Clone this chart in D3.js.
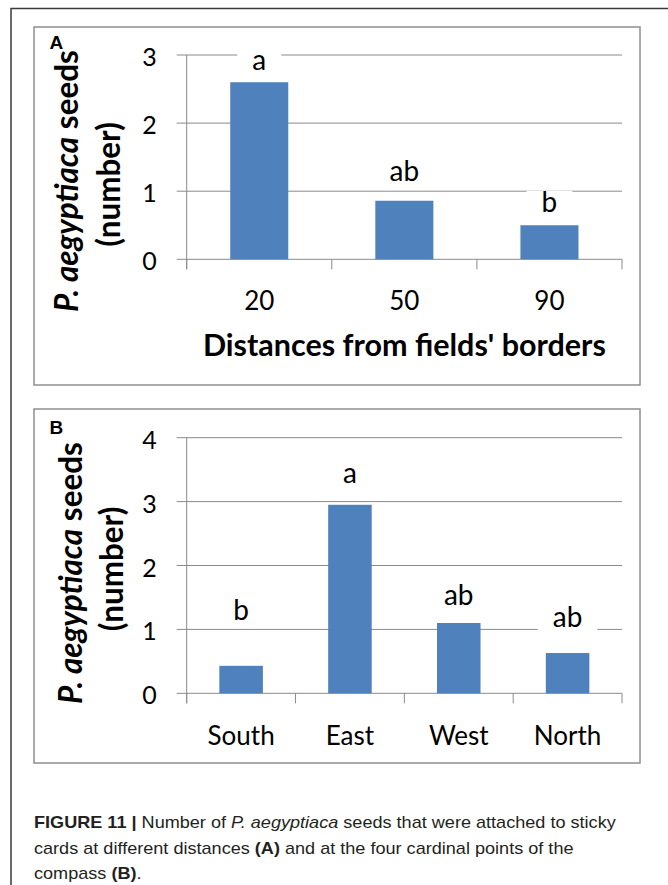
<!DOCTYPE html>
<html>
<head>
<meta charset="utf-8">
<script src="https://cdn.jsdelivr.net/npm/d3@7"></script>
<style>
  body { margin: 0; background: #fff; }
  svg { display: block; }
</style>
</head>
<body>
<script>
// Panel A: seeds caught at different distances from the field borders
const distances = ["20", "50", "90"];
const seedsByDistance = [2.6, 0.86, 0.5];
const lettersByDistance = ["a", "ab", "b"];
const distanceTicks = [0, 1, 2, 3];

// Panel B: seeds caught at the four cardinal points
const directions = ["South", "East", "West", "North"];
const seedsByDirection = [0.43, 2.95, 1.1, 0.63];
const lettersByDirection = ["b", "a", "ab", "ab"];
const directionTicks = [0, 1, 2, 3, 4];

const W = 668, H = 885;
const BAR = "#4f81bd", GRID = "#8a8a8a", FRAME = "#8f8f8f";
const FONT = "Lato, 'Open Sans', sans-serif";

const svg = d3.select("body").append("svg")
  .attr("width", W).attr("height", H);

// page rule along the top and left edges
svg.append("path")
  .attr("d", `M11,${H} V8.5 H${W}`)
  .attr("fill", "none").attr("stroke", "#3a3a3a").attr("stroke-width", 1.5);

const panels = [
  {
    tag: "A", cats: distances, vals: seedsByDistance, letters: lettersByDistance, ticks: distanceTicks,
    box: [34, 27, 606, 358], plot: { l: 186.7, r: 622, t: 55, b: 259.3 }, tagBase: 49,
    catBase: 310, letterGap: [12, 20, 13],
    titleX: [78, 120], titleY: [181, 184.5],
    xTitle: "Distances from fields' borders", xTitleBase: 356, xTitleWidth: 403
  },
  {
    tag: "B", cats: directions, vals: seedsByDirection, letters: lettersByDirection, ticks: directionTicks,
    box: [34, 409, 606, 354], plot: { l: 186.7, r: 622, t: 437.7, b: 693.3 }, tagBase: 433.5,
    catBase: 745, letterGap: [46, 22, 18, 26],
    titleX: [82, 123], titleY: [573, 569]
  }
];

panels.forEach(p => {
  const g = svg.append("g");

  g.append("rect")
    .attr("x", p.box[0]).attr("y", p.box[1])
    .attr("width", p.box[2]).attr("height", p.box[3])
    .attr("fill", "#fff").attr("stroke", FRAME).attr("stroke-width", 1.5);

  const x = d3.scaleBand().domain(p.cats)
    .range([p.plot.l, p.plot.r]).paddingInner(0.6).paddingOuter(0.3);
  const y = d3.scaleLinear().domain([0, d3.max(p.ticks)])
    .range([p.plot.b, p.plot.t]);

  // horizontal gridlines (with outside tick stubs)
  g.append("g").selectAll("line").data(p.ticks).join("line")
    .attr("x1", p.plot.l - 10).attr("x2", p.plot.r)
    .attr("y1", d => y(d)).attr("y2", d => y(d))
    .attr("stroke", GRID).attr("stroke-width", 1);

  // vertical axis line
  g.append("line")
    .attr("x1", p.plot.l).attr("x2", p.plot.l)
    .attr("y1", y(d3.max(p.ticks))).attr("y2", y(0) + 10)
    .attr("stroke", GRID).attr("stroke-width", 1);

  // category boundary tick marks
  const step = x.step();
  const bounds = p.cats.map(c => x(c) - step * x.paddingOuter());
  bounds.push(x(p.cats[p.cats.length - 1]) + x.bandwidth() + step * x.paddingOuter());
  g.append("g").selectAll("line").data(bounds).join("line")
    .attr("x1", d => d).attr("x2", d => d)
    .attr("y1", y(0)).attr("y2", y(0) + 10)
    .attr("stroke", GRID).attr("stroke-width", 1);

  // y tick labels
  const yAxis = g.append("g").attr("transform", `translate(${p.plot.l},0)`)
    .call(d3.axisLeft(y).tickValues(p.ticks).tickFormat(d3.format("d"))
      .tickSizeInner(10).tickSizeOuter(0).tickPadding(20));
  yAxis.select(".domain").remove();
  yAxis.selectAll("line").remove();
  yAxis.selectAll("text")
    .attr("font-family", FONT).attr("font-size", 25).attr("fill", "#000")
    .attr("dy", "0.42em");

  // category labels
  const xAxis = g.append("g").attr("transform", `translate(0,${p.catBase})`)
    .call(d3.axisBottom(x).tickSize(0).tickPadding(0));
  xAxis.select(".domain").remove();
  xAxis.selectAll("text")
    .attr("font-family", FONT).attr("font-size", 26).attr("fill", "#000")
    .attr("y", 0).attr("dy", 0);

  // significance letters on a white box
  p.cats.forEach((c, i) => {
    const cx = x(c) + x.bandwidth() / 2;
    const base = y(p.vals[i]) - p.letterGap[i];
    const lg = g.append("g");
    const box = lg.append("rect").attr("fill", "#fff");
    const t = lg.append("text")
      .attr("x", cx).attr("y", base)
      .attr("text-anchor", "middle")
      .attr("font-family", FONT).attr("font-size", 28).attr("fill", "#000")
      .text(p.letters[i]);
    const w = t.node().getComputedTextLength();
    box.attr("x", cx - w / 2 - 15).attr("width", w + 30)
      .attr("y", base - 21.5).attr("height", 27.5);
  });

  // bars
  g.append("g").selectAll("rect").data(p.vals).join("rect")
    .attr("x", (d, i) => x(p.cats[i]))
    .attr("width", x.bandwidth())
    .attr("y", d => y(d))
    .attr("height", d => y(0) - y(d))
    .attr("fill", BAR);

  // panel tag
  g.append("text")
    .attr("x", 49.5).attr("y", p.tagBase)
    .attr("font-family", "'Liberation Sans', Arial, sans-serif")
    .attr("font-weight", "bold").attr("font-size", 19).attr("fill", "#000")
    .text(p.tag);

  // rotated y title, two lines
  const t1 = g.append("text")
    .attr("transform", `translate(${p.titleX[0]},${p.titleY[0]}) rotate(-90)`)
    .attr("text-anchor", "middle")
    .attr("font-family", FONT).attr("font-weight", "bold").attr("font-size", 26).attr("fill", "#000");
  t1.append("tspan").attr("font-style", "italic").text("P. aegyptiaca");
  t1.append("tspan").text(" seeds");
  const fit = 26 * 262 / t1.node().getComputedTextLength();
  t1.attr("font-size", fit);
  g.append("text")
    .attr("transform", `translate(${p.titleX[1]},${p.titleY[1]}) rotate(-90)`)
    .attr("text-anchor", "middle")
    .attr("font-family", FONT).attr("font-weight", "bold").attr("font-size", fit).attr("fill", "#000")
    .text("(number)");

  // x title
  if (p.xTitle) {
    const xt = g.append("text")
      .attr("x", (p.plot.l + p.plot.r) / 2).attr("y", p.xTitleBase)
      .attr("text-anchor", "middle")
      .attr("font-family", FONT).attr("font-weight", "bold").attr("font-size", 26).attr("fill", "#000")
      .text(p.xTitle);
    xt.attr("font-size", 26 * p.xTitleWidth / xt.node().getComputedTextLength());
  }
});

// figure caption
const captionLines = [
  [["FIGURE 11 |", "bold"], [" Number of ", ""], ["P. aegyptiaca", "italic"], [" seeds that were attached to sticky", ""]],
  [["cards at different distances ", ""], ["(A)", "bold"], [" and at the four cardinal points of the", ""]],
  [["compass ", ""], ["(B)", "bold"], [".", ""]]
];
const capBase = [828, 853.5, 879];
const cap = svg.append("g");
const capTexts = captionLines.map((line, i) => {
  const t = cap.append("text")
    .attr("x", 0).attr("y", 0)
    .attr("font-family", "'Liberation Sans', Arial, sans-serif")
    .attr("font-size", 17).attr("fill", "#231f20");
  line.forEach(([s, st]) => {
    const ts = t.append("tspan").text(s);
    if (st === "bold") ts.attr("font-weight", "bold");
    if (st === "italic") ts.attr("font-style", "italic");
  });
  return t;
});
const sx = 582 / capTexts[0].node().getComputedTextLength();
capTexts.forEach((t, i) => t.attr("transform", `translate(34,${capBase[i]}) scale(${sx},1)`));
</script>
</body>
</html>
